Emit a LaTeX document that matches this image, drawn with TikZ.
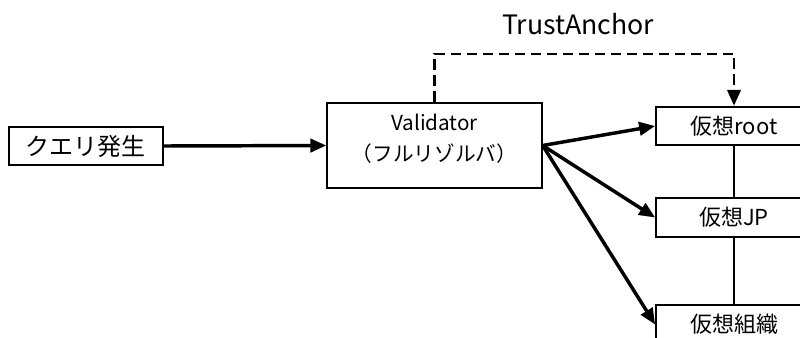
\documentclass[tikz,border=0pt]{standalone}
\usepackage{fontspec}
\setmainfont{Noto Sans CJK JP}
\usetikzlibrary{arrows.meta}
\tikzset{
  box/.style={draw, line width=1.3pt, minimum height=29pt, inner sep=0pt, font=\fontsize{16.5}{20}\selectfont},
  flow/.style={line width=2.6pt, -{Triangle[length=12pt,width=10pt]}},
  link/.style={line width=1.3pt},
  anchorpath/.style={line width=2.2pt, dash pattern=on 8pt off 4pt, -{Triangle[length=12pt,width=10pt]}},
}
\begin{document}
\begin{tikzpicture}[x=0.75pt,y=-0.75pt]
\useasboundingbox (0,0) rectangle (800,337);
\clip (0,0) rectangle (800,337);
\fill[white] (0,0) rectangle (800,337);

% query source and validator
\node[box, minimum width=115.5pt, font=\fontsize{18}{20}\selectfont] (q) at (86,146) {クエリ発生};
\node[box, minimum width=161pt, minimum height=64pt] (val) at (434.5,145.5) {};
\node[align=center, inner sep=0pt, font=\fontsize{15.5}{23}\selectfont] (valtext) at (434.5,139) {Validator\\（フルリゾルバ）};

% name-server hierarchy (boxes run past the right edge)
\node[box, minimum width=117pt] (root) at (734,126) {仮想root};
\node[box, minimum width=117pt] (jp) at (734,217.5) {仮想JP};
\node[box, minimum width=117pt] (org) at (734,324.5) {仮想組織};

\node[font=\fontsize{20}{24}\selectfont] (ta) at (578,24) {TrustAnchor};

% connections
\draw[flow] (q.east) -- (val.west);
\draw[flow] (val.east) -- (root.west);
\draw[flow] (val.east) -- (jp.west);
\draw[flow] (val.east) -- (org.west);
\draw[link] (root.south) -- (jp.north);
\draw[link] (jp.south) -- (org.north);
\draw[anchorpath] (val.north) -- ++(0,-48) -| (root.north);
\end{tikzpicture}
\end{document}
